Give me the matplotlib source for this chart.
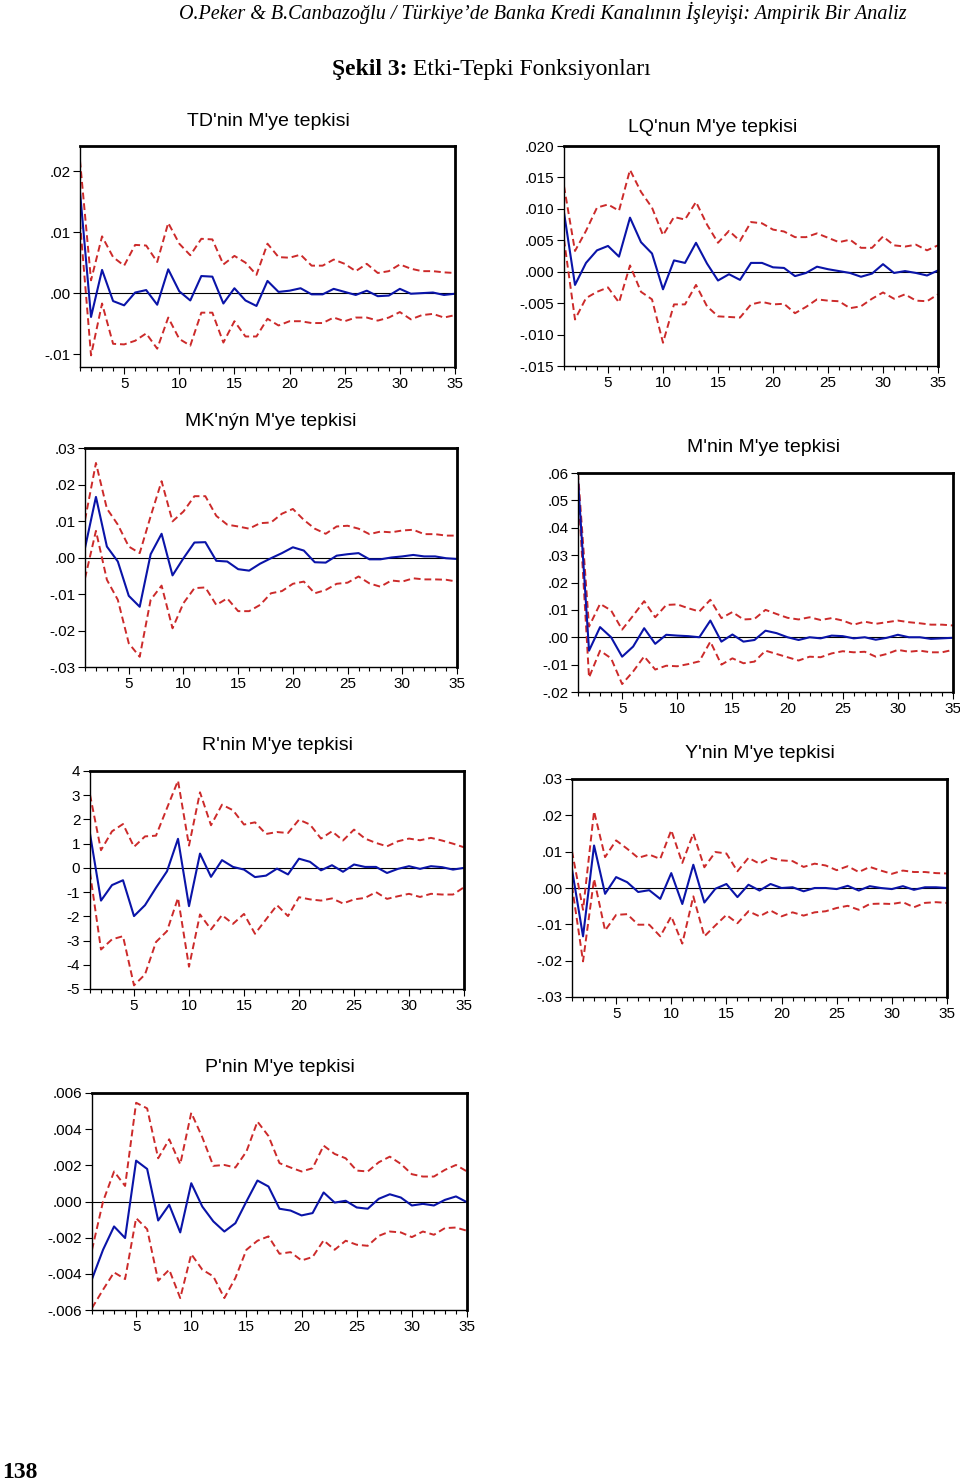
import numpy as np
import matplotlib
matplotlib.use("Agg")
import matplotlib.pyplot as plt
from matplotlib.ticker import FixedLocator, MultipleLocator

W, H = 960, 1483
periods = np.arange(1, 36)

# TD'nin M'ye tepkisi
td_resp = [0.0166, -0.0039, 0.0038, -0.0013, -0.0020, 0.0001, 0.0005, -0.0019, 0.0039, 0.0003,
           -0.0012, 0.0028, 0.0027, -0.0017, 0.0008, -0.0012, -0.0021, 0.0020, 0.0002, 0.0004,
           0.0008, -0.0002, -0.0002, 0.0007, 0.0002, -0.0003, 0.0004, -0.0005, -0.0004, 0.0007,
           -0.0001, 0.0000, 0.0001, -0.0003, -0.0001]
td_up = [0.0217, 0.0021, 0.0093, 0.0059, 0.0045, 0.0079, 0.0078, 0.0051, 0.0115, 0.0081,
         0.0062, 0.0089, 0.0088, 0.0047, 0.0061, 0.0050, 0.0030, 0.0081, 0.0059, 0.0058,
         0.0063, 0.0045, 0.0045, 0.0055, 0.0048, 0.0036, 0.0048, 0.0033, 0.0036, 0.0047,
         0.0040, 0.0036, 0.0036, 0.0034, 0.0033]
td_lo = [0.0116, -0.0102, -0.0017, -0.0083, -0.0084, -0.0078, -0.0066, -0.0091, -0.0040, -0.0075,
         -0.0086, -0.0032, -0.0032, -0.0081, -0.0046, -0.0071, -0.0071, -0.0042, -0.0053, -0.0046,
         -0.0046, -0.0049, -0.0049, -0.0040, -0.0046, -0.0040, -0.0040, -0.0045, -0.0040, -0.0031,
         -0.0043, -0.0036, -0.0034, -0.0040, -0.0036]

# LQ'nun M'ye tepkisi
lq_resp = [0.0094, -0.0021, 0.0014, 0.0034, 0.0041, 0.0024, 0.0086, 0.0047, 0.0029, -0.0028,
           0.0018, 0.0014, 0.0046, 0.0013, -0.0014, -0.0004, -0.0013, 0.0014, 0.0014, 0.0007,
           0.0006, -0.0007, -0.0002, 0.0008, 0.0004, 0.0001, -0.0002, -0.0008, -0.0003, 0.0012,
           -0.0002, 0.0001, -0.0002, -0.0006, 0.0002]
lq_up = [0.0136, 0.0033, 0.0065, 0.0102, 0.0107, 0.0097, 0.0162, 0.0127, 0.0102, 0.0058,
         0.0087, 0.0083, 0.0111, 0.0075, 0.0046, 0.0065, 0.0049, 0.0079, 0.0077, 0.0067,
         0.0064, 0.0055, 0.0055, 0.0061, 0.0054, 0.0047, 0.0051, 0.0038, 0.0038, 0.0056,
         0.0042, 0.0040, 0.0043, 0.0034, 0.0042]
lq_lo = [0.0051, -0.0076, -0.0042, -0.0032, -0.0025, -0.0049, 0.0010, -0.0032, -0.0044, -0.0113,
         -0.0052, -0.0052, -0.0021, -0.0055, -0.0071, -0.0072, -0.0073, -0.0052, -0.0048, -0.0052,
         -0.0051, -0.0066, -0.0056, -0.0044, -0.0046, -0.0047, -0.0058, -0.0055, -0.0043, -0.0033,
         -0.0043, -0.0036, -0.0046, -0.0047, -0.0036]

# MK'nýn M'ye tepkisi
mk_resp = [0.0026, 0.0166, 0.0030, -0.0011, -0.0105, -0.0135, 0.0009, 0.0065, -0.0049, -0.0002,
           0.0041, 0.0042, -0.0009, -0.0011, -0.0032, -0.0036, -0.0017, -0.0002, 0.0012, 0.0028,
           0.0019, -0.0013, -0.0014, 0.0005, 0.0009, 0.0012, -0.0005, -0.0005, 0.0000, 0.0003,
           0.0007, 0.0003, 0.0003, -0.0002, -0.0004]
mk_up = [0.0103, 0.0259, 0.0134, 0.0090, 0.0030, 0.0012, 0.0113, 0.0209, 0.0099, 0.0126,
         0.0168, 0.0168, 0.0114, 0.0090, 0.0085, 0.0079, 0.0094, 0.0096, 0.0120, 0.0133,
         0.0103, 0.0079, 0.0065, 0.0085, 0.0087, 0.0079, 0.0064, 0.0071, 0.0069, 0.0074,
         0.0076, 0.0064, 0.0064, 0.0060, 0.0060]
mk_lo = [-0.0057, 0.0073, -0.0061, -0.0116, -0.0235, -0.0272, -0.0116, -0.0077, -0.0194, -0.0125,
         -0.0084, -0.0082, -0.0130, -0.0112, -0.0147, -0.0147, -0.0130, -0.0098, -0.0092, -0.0072,
         -0.0066, -0.0098, -0.0089, -0.0072, -0.0069, -0.0052, -0.0071, -0.0080, -0.0063, -0.0066,
         -0.0057, -0.0060, -0.0060, -0.0061, -0.0066]

# M'nin M'ye tepkisi
m_resp = [0.0575, -0.0049, 0.0037, 0.0000, -0.0071, -0.0034, 0.0033, -0.0024, 0.0009, 0.0006,
          0.0004, 0.0000, 0.0061, -0.0016, 0.0010, -0.0016, -0.0010, 0.0024, 0.0015, 0.0000,
          -0.0010, 0.0000, -0.0004, 0.0006, 0.0004, -0.0004, 0.0000, -0.0009, -0.0002, 0.0009,
          0.0000, 0.0000, -0.0006, -0.0004, -0.0002]
m_up = [0.0600, 0.0039, 0.0122, 0.0098, 0.0028, 0.0079, 0.0132, 0.0073, 0.0118, 0.0120,
        0.0106, 0.0094, 0.0137, 0.0070, 0.0092, 0.0065, 0.0067, 0.0100, 0.0085, 0.0071,
        0.0065, 0.0073, 0.0063, 0.0070, 0.0061, 0.0046, 0.0057, 0.0049, 0.0055, 0.0061,
        0.0055, 0.0051, 0.0046, 0.0046, 0.0043]
m_lo = [0.0550, -0.0147, -0.0049, -0.0077, -0.0171, -0.0125, -0.0070, -0.0118, -0.0104, -0.0106,
        -0.0098, -0.0088, -0.0016, -0.0100, -0.0077, -0.0095, -0.0089, -0.0049, -0.0061, -0.0073,
        -0.0085, -0.0071, -0.0073, -0.0059, -0.0051, -0.0055, -0.0053, -0.0071, -0.0061, -0.0046,
        -0.0053, -0.0049, -0.0055, -0.0055, -0.0046]

# R'nin M'ye tepkisi
r_resp = [1.41, -1.35, -0.71, -0.51, -1.99, -1.54, -0.82, -0.14, 1.20, -1.58,
          0.59, -0.37, 0.32, 0.04, -0.07, -0.38, -0.32, -0.03, -0.27, 0.38,
          0.25, -0.10, 0.11, -0.16, 0.14, 0.04, 0.04, -0.21, -0.04, 0.07,
          -0.04, 0.07, 0.03, -0.07, 0.00]
r_up = [3.02, 0.73, 1.51, 1.81, 0.87, 1.30, 1.33, 2.47, 3.60, 0.92,
        3.12, 1.76, 2.61, 2.38, 1.79, 1.88, 1.40, 1.48, 1.44, 1.99,
        1.79, 1.21, 1.51, 1.13, 1.58, 1.21, 1.03, 0.89, 1.10, 1.21,
        1.14, 1.24, 1.13, 1.00, 0.85]
r_lo = [-0.20, -3.37, -2.95, -2.82, -4.85, -4.40, -3.06, -2.61, -1.24, -4.08,
        -1.92, -2.54, -1.95, -2.31, -1.90, -2.72, -2.13, -1.54, -1.99, -1.21,
        -1.30, -1.35, -1.26, -1.47, -1.30, -1.24, -1.00, -1.28, -1.17, -1.07,
        -1.20, -1.07, -1.10, -1.10, -0.80]

# Y'nin M'ye tepkisi
y_resp = [0.0051, -0.0133, 0.0117, -0.0016, 0.0030, 0.0016, -0.0011, -0.0006, -0.0030, 0.0041,
          -0.0044, 0.0064, -0.0040, -0.0002, 0.0011, -0.0025, 0.0009, -0.0007, 0.0011, 0.0000,
          0.0002, -0.0009, 0.0000, 0.0000, -0.0003, 0.0006, -0.0007, 0.0005, 0.0000, -0.0003,
          0.0005, -0.0005, 0.0002, 0.0002, 0.0000]
y_up = [0.0101, -0.0060, 0.0211, 0.0085, 0.0131, 0.0108, 0.0083, 0.0092, 0.0080, 0.0159,
        0.0069, 0.0150, 0.0057, 0.0099, 0.0095, 0.0046, 0.0083, 0.0067, 0.0083, 0.0076,
        0.0074, 0.0058, 0.0067, 0.0062, 0.0049, 0.0060, 0.0044, 0.0058, 0.0048, 0.0039,
        0.0048, 0.0044, 0.0044, 0.0041, 0.0040]
y_lo = [0.0005, -0.0202, 0.0025, -0.0117, -0.0074, -0.0072, -0.0101, -0.0101, -0.0133, -0.0078,
        -0.0153, -0.0023, -0.0133, -0.0103, -0.0074, -0.0097, -0.0064, -0.0078, -0.0062, -0.0078,
        -0.0067, -0.0076, -0.0067, -0.0064, -0.0055, -0.0049, -0.0060, -0.0044, -0.0043, -0.0044,
        -0.0039, -0.0053, -0.0041, -0.0039, -0.0041]

# P'nin M'ye tepkisi
p_resp = [-0.00429, -0.00267, -0.00138, -0.00202, 0.00226, 0.00180, -0.00105, -0.00018, -0.00171, 0.00101,
          -0.00028, -0.00110, -0.00166, -0.00120, 0.00000, 0.00116, 0.00083, -0.00040, -0.00050, -0.00077,
          -0.00064, 0.00050, -0.00006, 0.00004, -0.00033, -0.00040, 0.00015, 0.00040, 0.00022, -0.00022,
          -0.00013, -0.00022, 0.00009, 0.00028, -0.00004]
p_up = [-0.00267, 0.00000, 0.00166, 0.00086, 0.00546, 0.00515, 0.00239, 0.00344, 0.00206, 0.00491,
        0.00355, 0.00197, 0.00202, 0.00188, 0.00276, 0.00442, 0.00362, 0.00212, 0.00188, 0.00166,
        0.00184, 0.00309, 0.00263, 0.00239, 0.00171, 0.00166, 0.00217, 0.00248, 0.00208, 0.00151,
        0.00138, 0.00138, 0.00175, 0.00202, 0.00166]
p_lo = [-0.00589, -0.00488, -0.00392, -0.00429, -0.00092, -0.00153, -0.00438, -0.00377, -0.00534, -0.00291,
        -0.00377, -0.00414, -0.00534, -0.00423, -0.00267, -0.00217, -0.00193, -0.00289, -0.00280, -0.00326,
        -0.00307, -0.00215, -0.00267, -0.00217, -0.00239, -0.00245, -0.00190, -0.00166, -0.00171, -0.00197,
        -0.00166, -0.00184, -0.00147, -0.00144, -0.00162]

BLUE = "#0a14a8"
RED = "#cc2a2a"

fig = plt.figure(figsize=(W / 100, H / 100), dpi=100)
fig.patch.set_facecolor("white")


def rect(l, r, t, b):
    return [l / W, 1 - b / H, (r - l) / W, (b - t) / H]


def fmt(v, dec):
    if dec == 0:
        return f"{int(round(v))}"
    s = f"{v:.{dec}f}"
    if s.startswith("-0."):
        s = "-" + s[2:]
    elif s.startswith("0."):
        s = s[1:]
    if s.strip("-.0") == "":
        s = s.lstrip("-")
    return s


def panel(box, title, title_xy, resp, up, lo, yticks, ylim, dec):
    ax = fig.add_axes(rect(*box))
    ax.plot(periods, up, color=RED, lw=1.4, ls=(0, (3.5, 2)))
    ax.plot(periods, lo, color=RED, lw=1.4, ls=(0, (3.5, 2)))
    ax.plot(periods, resp, color=BLUE, lw=1.5)
    ax.axhline(0, color="black", lw=0.8, zorder=1)
    ax.set_xlim(1, 35)
    ax.set_ylim(*ylim)
    ax.xaxis.set_major_locator(FixedLocator([5, 10, 15, 20, 25, 30, 35]))
    ax.xaxis.set_minor_locator(MultipleLocator(1))
    ax.set_yticks(yticks)
    ax.set_yticklabels([fmt(v, dec) for v in yticks])
    ax.tick_params(axis="both", which="both", direction="out", labelsize=11,
                   length=5, width=0.8, pad=2)
    ax.tick_params(axis="x", which="minor", length=3)
    for side in ["left", "bottom"]:
        ax.spines[side].set_linewidth(1.0)
    for side in ["top", "right"]:
        ax.spines[side].set_linewidth(2.0)
    for lab in ax.get_xticklabels() + ax.get_yticklabels():
        lab.set_family("Liberation Sans")
    fig.text(title_xy[0] / W, 1 - title_xy[1] / H, title, ha="center", va="center",
             fontsize=14, family="Liberation Sans")
    return ax


panel((80, 455, 146, 367), "TD'nin M'ye tepkisi", (268, 122), td_resp, td_up, td_lo,
      [-0.01, 0.0, 0.01, 0.02], (-0.0121, 0.0241), 2)
panel((564, 938, 146, 366), "LQ'nun M'ye tepkisi", (713, 127), lq_resp, lq_up, lq_lo,
      [-0.015, -0.01, -0.005, 0.0, 0.005, 0.01, 0.015, 0.02], (-0.015, 0.02), 3)
panel((85, 457, 448, 667), "MK'nýn M'ye tepkisi", (271, 422), mk_resp, mk_up, mk_lo,
      [-0.03, -0.02, -0.01, 0.0, 0.01, 0.02, 0.03], (-0.03, 0.03), 2)
panel((578, 953, 473, 692), "M'nin M'ye tepkisi", (764, 448), m_resp, m_up, m_lo,
      [-0.02, -0.01, 0.0, 0.01, 0.02, 0.03, 0.04, 0.05, 0.06], (-0.02, 0.06), 2)
panel((90, 464, 771, 989), "R'nin M'ye tepkisi", (277, 746), r_resp, r_up, r_lo,
      [-5, -4, -3, -2, -1, 0, 1, 2, 3, 4], (-5, 4), 0)
panel((572, 947, 779, 997), "Y'nin M'ye tepkisi", (760, 753), y_resp, y_up, y_lo,
      [-0.03, -0.02, -0.01, 0.0, 0.01, 0.02, 0.03], (-0.03, 0.03), 2)
panel((92, 467, 1093, 1310), "P'nin M'ye tepkisi", (280, 1067), p_resp, p_up, p_lo,
      [-0.006, -0.004, -0.002, 0.0, 0.002, 0.004, 0.006], (-0.006, 0.006), 3)

fig.text(907 / W, 1 - 13 / H,
         "O.Peker & B.Canbazoğlu / Türkiye’de Banka Kredi Kanalının İşleyişi: Ampirik Bir Analiz",
         ha="right", va="center", fontsize=14.5, style="italic", family="Liberation Serif")
fig.text(408 / W, 1 - 70 / H, "Şekil 3:", ha="right", va="center", fontsize=17,
         weight="bold", family="Liberation Serif")
fig.text(413 / W, 1 - 70 / H, "Etki-Tepki Fonksiyonları", ha="left", va="center",
         fontsize=17, family="Liberation Serif")
fig.text(2 / W, 1 - 1472 / H, "138", ha="left", va="center", fontsize=17,
         weight="bold", family="Liberation Serif")

fig.savefig("out.png", dpi=100)
